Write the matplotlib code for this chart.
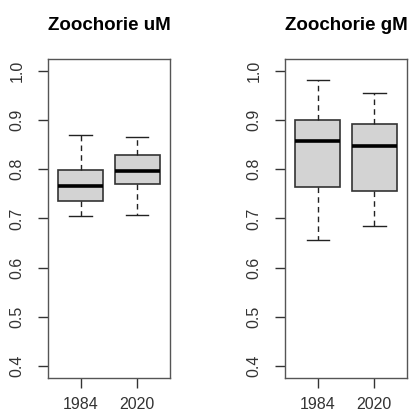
import matplotlib.pyplot as plt

plt.rcParams['font.family'] = ['Liberation Sans', 'DejaVu Sans']

years = ['1984', '2020']
titles = ['Zoochorie uM', 'Zoochorie gM']

# whisker low, Q1, median, Q3, whisker high
uM_low = [0.704, 0.707]
uM_q1 = [0.736, 0.770]
uM_med = [0.765, 0.797]
uM_q3 = [0.799, 0.829]
uM_high = [0.870, 0.866]

gM_low = [0.656, 0.685]
gM_q1 = [0.764, 0.755]
gM_med = [0.857, 0.847]
gM_q3 = [0.900, 0.892]
gM_high = [0.981, 0.954]

yticks = [0.4, 0.5, 0.6, 0.7, 0.8, 0.9, 1.0]


def stats(low, q1, med, q3, high):
    out = []
    for i in range(len(years)):
        out.append({'whislo': low[i], 'q1': q1[i], 'med': med[i],
                    'q3': q3[i], 'whishi': high[i], 'fliers': [],
                    'label': years[i]})
    return out


fig = plt.figure(figsize=(4.09, 4.15), dpi=100)
ax1 = fig.add_axes([0.1174, 0.0892, 0.298, 0.769])
ax2 = fig.add_axes([0.697, 0.0892, 0.298, 0.769])

panels = [(ax1, stats(uM_low, uM_q1, uM_med, uM_q3, uM_high)),
          (ax2, stats(gM_low, gM_q1, gM_med, gM_q3, gM_high))]

for (ax, st), title in zip(panels, titles):
    ax.bxp(st, positions=[1, 2], widths=0.8, patch_artist=True,
           showfliers=False,
           boxprops=dict(facecolor='#d3d3d3', edgecolor='#333333', linewidth=1.2),
           medianprops=dict(color='black', linewidth=2.6),
           whiskerprops=dict(color='#222222', linewidth=1.0, linestyle=(0, (4, 3))),
           capprops=dict(color='#222222', linewidth=1.0),
           capwidths=0.4)
    ax.set_xlim(0.42, 2.58)
    ax.set_ylim(0.376, 1.024)
    ax.set_yticks(yticks)
    ax.set_yticklabels(['%.1f' % v for v in yticks], rotation=90, va='center')
    ax.set_xticks([1, 2])
    ax.set_xticklabels(years)
    ax.tick_params(axis='both', direction='out', length=7, width=1.0,
                   colors='#333333', labelsize=11.5)
    ax.tick_params(axis='y', pad=10)
    ax.tick_params(axis='x', pad=7)
    for s in ax.spines.values():
        s.set_color('#555555')
        s.set_linewidth(1.0)
    ax.set_title(title, fontsize=13.5, fontweight='bold', pad=21)

fig.savefig('out.png', dpi=100)
